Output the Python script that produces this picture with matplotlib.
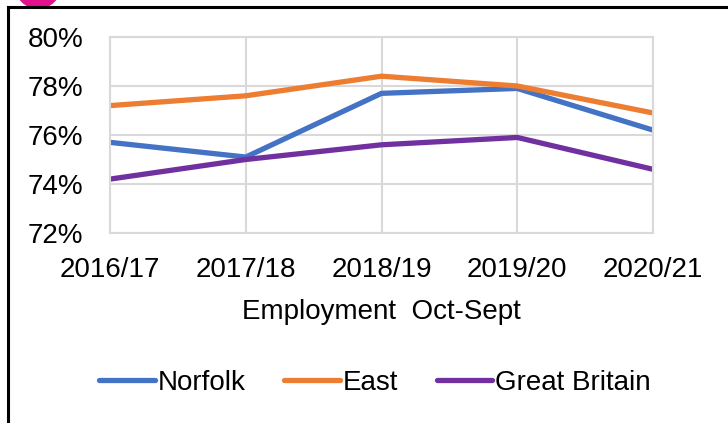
import matplotlib
matplotlib.use('Agg')
import matplotlib.pyplot as plt
from matplotlib.lines import Line2D
from matplotlib.patches import Ellipse
from matplotlib.ticker import FuncFormatter

plt.rcParams['font.family'] = ['Liberation Sans', 'DejaVu Sans']

years = ['2016/17', '2017/18', '2018/19', '2019/20', '2020/21']
norfolk = [75.7, 75.1, 77.7, 77.9, 76.2]
east = [77.2, 77.6, 78.4, 78.0, 76.9]
great_britain = [74.2, 75.0, 75.6, 75.9, 74.6]

series = [
    ('Norfolk', norfolk, '#4472C4'),
    ('East', east, '#ED7D31'),
    ('Great Britain', great_britain, '#7030A0'),
]

W, H = 728, 423
fig = plt.figure(figsize=(W / 100, H / 100), dpi=100)
fig.patch.set_facecolor('white')

# plot area in pixel terms
left, right, top, bottom = 110, 653, 37, 233
ax = fig.add_axes((left / W, 1 - bottom / H, (right - left) / W, (bottom - top) / H))

x = list(range(len(years)))
for name, vals, col in series:
    ax.plot(x, vals, color=col, linewidth=3.8, label=name, solid_capstyle='butt')

ax.set_xlim(0, len(years) - 1)
ax.set_ylim(72, 80)
ax.set_yticks([72, 74, 76, 78, 80])
ax.yaxis.set_major_formatter(FuncFormatter(lambda v, p: f'{v:.0f}%'))
ax.set_xticks(x)
ax.set_xticklabels(years)
ax.tick_params(axis='both', length=0, labelsize=20, colors='black')
ax.tick_params(axis='x', pad=17)
ax.tick_params(axis='y', pad=19)
ax.grid(True, color='#D9D9D9', linewidth=1.5)
ax.set_axisbelow(True)
for s in ax.spines.values():
    s.set_color('#D9D9D9')
    s.set_linewidth(1.5)

ax.set_xlabel('Employment  Oct-Sept', fontsize=20, labelpad=12)

handles = [Line2D([0], [0], color=c, linewidth=3.8, solid_capstyle='round') for _, _, c in series]
fig.legend(handles, [n for n, _, _ in series], loc='center', bbox_to_anchor=(0.515, 1 - 383 / H),
           ncol=3, frameon=False, fontsize=20, handlelength=2.0, handletextpad=0.1,
           columnspacing=1.4)

# outer frame (left and top edges)
fig.add_artist(Line2D([8 / W, 8 / W], [0, 1 - 7 / H], color='black', linewidth=2.2,
                      transform=fig.transFigure))
fig.add_artist(Line2D([8 / W, 1], [1 - 7 / H, 1 - 7 / H], color='black', linewidth=2.2,
                      transform=fig.transFigure))

# magenta marker peeking in at the top
fig.add_artist(Ellipse((38 / W, 1 + 14 / H), 46 / W, 46 / H, facecolor='#E0138C',
                       edgecolor='none', transform=fig.transFigure, zorder=0))

fig.savefig('out.png', dpi=100, facecolor='white')
